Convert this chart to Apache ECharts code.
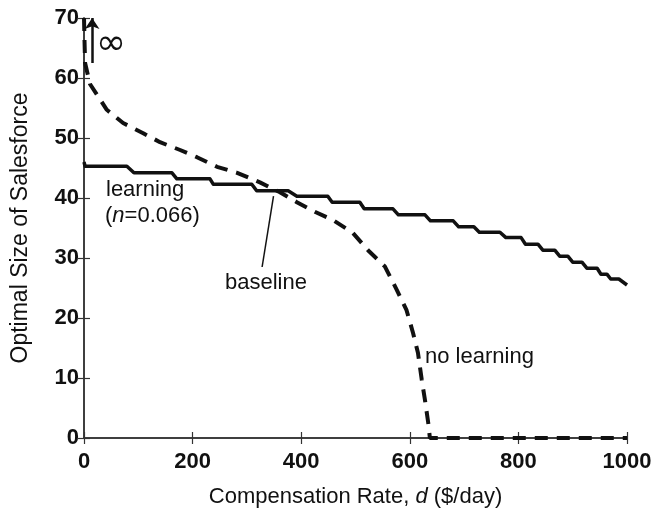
<!DOCTYPE html>
<html lang="en">
<head>
	<meta charset="UTF-8">
	<title>optimal salesforce size</title>
	<script src="https://cdn.jsdelivr.net/npm/echarts@6/dist/echarts.min.js"></script>
	<style>
		html, body { margin: 0; padding: 0; background: #fff; }
		#chart { width: 654px; height: 511px; }
	</style>
</head>
<body>
	<div id="chart"></div>

	<script>
		// learning (n=0.066): staircase, two points per step level
		let learnRate = [0, 2, 79, 92, 162, 171, 232, 238, 309, 318, 376, 392, 449, 457, 508, 516, 569, 579, 628, 638, 680, 690, 718, 728, 766, 777, 805, 813, 836, 845, 867, 876, 891, 900, 917, 926, 945, 952, 963, 970, 985, 1000];
		let learnSize = [46, 45.3, 45.3, 44.2, 44.2, 43.2, 43.2, 42.3, 42.3, 41.2, 41.2, 40.3, 40.3, 39.3, 39.3, 38.2, 38.2, 37.2, 37.2, 36.2, 36.2, 35.2, 35.2, 34.3, 34.3, 33.4, 33.4, 32.3, 32.3, 31.3, 31.3, 30.3, 30.3, 29.3, 29.3, 28.3, 28.3, 27.3, 27.3, 26.5, 26.5, 25.5];
		// no learning (dashed)
		let noLearnRate = [0, 1, 2, 11, 42, 72, 109, 140, 177, 208, 245, 282, 324, 360, 392, 425, 459, 495, 523, 554, 576, 594, 606, 615, 622, 628, 634, 637, 1000];
		let noLearnSize = [70, 66, 62.5, 59, 54.7, 52.5, 50.8, 49.3, 48, 46.8, 45.2, 44.2, 42.6, 41, 39.3, 37.7, 36.3, 34.2, 31.3, 28.6, 24.7, 21.3, 17.5, 14.2, 9.7, 6.3, 2.5, 0, 0];

		let xTicks = [0, 1000, 200];
		let yTicks = [0, 70, 10];

		let zip = (a, b) => a.map((v, i) => [v, b[i]]);
		let font = '"Liberation Sans", Arial, sans-serif';
		let ink = '#111';

		let tickLabel = { color: ink, fontFamily: font, fontWeight: 'bold', fontSize: 22, formatter: v => String(v) };
		let axisBase = {
			type: 'value',
			splitLine: { show: false },
			axisLine: { show: true, lineStyle: { color: '#333', width: 1.5 } },
			axisTick: { show: true, inside: true, length: 6, lineStyle: { color: '#333', width: 1.2 } }
		};

		let chart = echarts.init(document.getElementById('chart'));
		chart.setOption({
			animation: false,
			backgroundColor: '#fff',
			grid: { left: 84, right: 27, top: 18, bottom: 73, containLabel: false, outerBoundsMode: 'none' },
			xAxis: [
				Object.assign({}, axisBase, {
					min: xTicks[0], max: xTicks[1], interval: xTicks[2],
					position: 'bottom',
					axisLabel: Object.assign({ margin: 13 }, tickLabel),
					name: '{n|Compensation Rate, }{i|d}{n| ($/day)}',
					nameLocation: 'middle', nameGap: 48,
					nameTextStyle: {
						rich: {
							n: { fontFamily: font, fontSize: 22, color: ink },
							i: { fontFamily: font, fontSize: 22, color: ink, fontStyle: 'italic' }
						}
					}
				}),
				Object.assign({}, axisBase, {
					min: xTicks[0], max: xTicks[1], interval: xTicks[2],
					position: 'top', axisLabel: { show: false }
				})
			],
			yAxis: [
				Object.assign({}, axisBase, {
					min: yTicks[0], max: yTicks[1], interval: yTicks[2],
					position: 'left',
					axisLabel: Object.assign({ margin: 5 }, tickLabel),
					name: 'Optimal Size of Salesforce',
					nameLocation: 'middle', nameGap: 52,
					nameTextStyle: { fontFamily: font, fontSize: 23, color: ink }
				}),
				Object.assign({}, axisBase, {
					min: yTicks[0], max: yTicks[1], interval: yTicks[2],
					position: 'right', axisLabel: { show: false }
				})
			],
			series: [
				{
					name: 'learning',
					type: 'line',
					data: zip(learnRate, learnSize),
					showSymbol: false,
					lineStyle: { color: ink, width: 3.5, join: 'round' },
					markLine: {
						silent: true,
						symbol: ['none', 'none'],
						label: { show: false },
						lineStyle: { color: ink, width: 1.5, type: 'solid' },
						data: [[{ coord: [328, 28.5] }, { coord: [349, 40.3] }]]
					}
				},
				{
					name: 'no learning',
					type: 'line',
					data: zip(noLearnRate, noLearnSize),
					showSymbol: false,
					lineStyle: { color: ink, width: 4, type: [13, 9] },
					markLine: {
						silent: true,
						symbol: ['none', 'arrow'],
						symbolSize: 11,
						label: { show: false },
						lineStyle: { color: ink, width: 2.5, type: 'solid' },
						data: [[{ coord: [15, 62.5] }, { coord: [15, 70] }]]
					}
				}
			],
			graphic: [
				{ type: 'text', x: 111, y: 45, style: { text: '∞', fontFamily: '"DejaVu Sans", sans-serif', fontSize: 36, fill: ink, align: 'center', verticalAlign: 'middle' } },
				{ type: 'text', left: 106, top: 179, style: { text: 'learning', fontFamily: font, fontSize: 22, fill: ink } },
				{ type: 'text', left: 105, top: 205, style: {
					text: '({i|n}=0.066)', fontFamily: font, fontSize: 22, fill: ink,
					rich: { i: { fontFamily: font, fontSize: 22, fontStyle: 'italic', fill: ink } }
				} },
				{ type: 'text', left: 225, top: 272, style: { text: 'baseline', fontFamily: font, fontSize: 22, fill: ink } },
				{ type: 'text', left: 425, top: 346, style: { text: 'no learning', fontFamily: font, fontSize: 22, fill: ink } }
			]
		});
	</script>
</body>
</html>
